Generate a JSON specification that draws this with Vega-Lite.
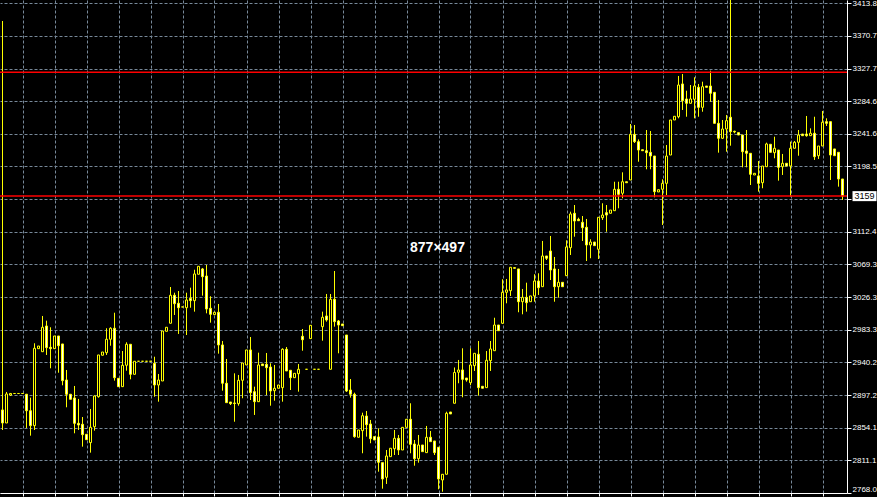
{
"$schema": "https://vega.github.io/schema/vega-lite/v6.json",
"width": 847, "height": 493,
"autosize": "none",
"padding": {"left": 0, "top": 0, "right": 30, "bottom": 4},
"background": "#000000",
"config": {"view": {"stroke": null}, "scale": {"continuousPadding": 0}},
"datasets": {
"candles": [
{"i":0,"o":2877.5,"h":3390.3,"l":2851.1,"c":2860.3},
{"i":1,"o":2860.3,"h":2901.2,"l":2860.3,"c":2898.6},
{"i":2,"o":2897.2,"h":2899.9,"l":2895.9,"c":2899.2},
{"i":3,"o":2899.2,"h":2899.2,"l":2899.2,"c":2899.2},
{"i":4,"o":2899.2,"h":2899.2,"l":2899.2,"c":2899.2},
{"i":5,"o":2899.2,"h":2899.2,"l":2899.2,"c":2899.2},
{"i":6,"o":2898.2,"h":2898.6,"l":2853.7,"c":2876.5},
{"i":7,"o":2876.5,"h":2893.7,"l":2843.6,"c":2856.8},
{"i":8,"o":2856.8,"h":2965.4,"l":2851.1,"c":2958.8},
{"i":9,"o":2958.3,"h":2961.8,"l":2958.3,"c":2961.8},
{"i":10,"o":2954.3,"h":3001.4,"l":2954.3,"c":2986.5},
{"i":11,"o":2988.2,"h":2995.2,"l":2950.0,"c":2959.6},
{"i":12,"o":2960.1,"h":2986.5,"l":2932.4,"c":2958.3},
{"i":13,"o":2958.3,"h":2975.0,"l":2958.3,"c":2975.0},
{"i":14,"o":2975.0,"h":2975.0,"l":2926.6,"c":2962.2},
{"i":15,"o":2964.5,"h":2964.5,"l":2910.0,"c":2916.1},
{"i":16,"o":2917.0,"h":2930.2,"l":2881.0,"c":2898.2},
{"i":17,"o":2898.2,"h":2898.2,"l":2891.6,"c":2891.6},
{"i":18,"o":2893.3,"h":2909.1,"l":2846.7,"c":2859.9},
{"i":19,"o":2859.9,"h":2892.0,"l":2851.1,"c":2857.7},
{"i":20,"o":2858.6,"h":2868.2,"l":2829.1,"c":2844.9},
{"i":21,"o":2845.4,"h":2845.4,"l":2837.9,"c":2838.3},
{"i":22,"o":2834.4,"h":2878.8,"l":2821.2,"c":2854.6},
{"i":23,"o":2855.4,"h":2896.6,"l":2850.2,"c":2895.9},
{"i":24,"o":2895.0,"h":2950.0,"l":2893.7,"c":2950.0},
{"i":25,"o":2949.6,"h":2953.9,"l":2949.6,"c":2953.9},
{"i":26,"o":2953.0,"h":2985.2,"l":2950.0,"c":2970.7},
{"i":27,"o":2970.7,"h":2986.5,"l":2962.2,"c":2985.2},
{"i":28,"o":2985.2,"h":3005.7,"l":2916.1,"c":2920.0},
{"i":29,"o":2919.2,"h":2919.2,"l":2907.8,"c":2908.2},
{"i":30,"o":2908.2,"h":2955.2,"l":2907.8,"c":2936.4},
{"i":31,"o":2936.4,"h":2966.7,"l":2929.3,"c":2964.1},
{"i":32,"o":2964.1,"h":2964.1,"l":2917.9,"c":2924.5},
{"i":33,"o":2924.5,"h":2941.7,"l":2924.5,"c":2941.7},
{"i":34,"o":2941.7,"h":2941.7,"l":2941.7,"c":2941.7},
{"i":35,"o":2941.7,"h":2941.7,"l":2941.7,"c":2941.7},
{"i":36,"o":2941.7,"h":2941.7,"l":2941.7,"c":2941.7},
{"i":37,"o":2941.7,"h":2941.7,"l":2941.7,"c":2941.7},
{"i":38,"o":2939.0,"h":2947.7,"l":2895.0,"c":2910.4},
{"i":39,"o":2910.4,"h":2924.9,"l":2888.4,"c":2917.0},
{"i":40,"o":2915.7,"h":2981.6,"l":2915.7,"c":2981.6},
{"i":41,"o":2981.2,"h":2986.5,"l":2981.2,"c":2986.5},
{"i":42,"o":2991.8,"h":3039.6,"l":2991.8,"c":3028.7},
{"i":43,"o":3028.7,"h":3032.1,"l":3002.7,"c":3017.6},
{"i":44,"o":3018.1,"h":3034.3,"l":2977.7,"c":3012.3},
{"i":45,"o":3013.3,"h":3013.3,"l":3013.3,"c":3013.3},
{"i":46,"o":3012.3,"h":3032.1,"l":2976.3,"c":3022.5},
{"i":47,"o":3024.7,"h":3038.7,"l":3012.3,"c":3021.6},
{"i":48,"o":3021.6,"h":3062.4,"l":3007.1,"c":3056.8},
{"i":49,"o":3056.4,"h":3066.9,"l":3056.4,"c":3066.9},
{"i":50,"o":3063.4,"h":3064.7,"l":3028.2,"c":3053.2},
{"i":51,"o":3054.1,"h":3068.6,"l":3004.9,"c":3010.6},
{"i":52,"o":3011.5,"h":3027.4,"l":2992.6,"c":3003.6},
{"i":53,"o":3003.1,"h":3006.3,"l":3003.1,"c":3006.3},
{"i":54,"o":3006.3,"h":3017.2,"l":2951.7,"c":2963.2},
{"i":55,"o":2963.2,"h":2968.4,"l":2902.9,"c":2912.7},
{"i":56,"o":2912.7,"h":2944.7,"l":2887.1,"c":2887.1},
{"i":57,"o":2888.0,"h":2888.0,"l":2884.0,"c":2885.8},
{"i":58,"o":2886.7,"h":2925.8,"l":2862.0,"c":2886.0},
{"i":59,"o":2885.8,"h":2923.6,"l":2883.1,"c":2916.6},
{"i":60,"o":2916.6,"h":2939.4,"l":2892.9,"c":2939.4},
{"i":61,"o":2936.8,"h":2956.6,"l":2936.8,"c":2956.6},
{"i":62,"o":2956.6,"h":2973.7,"l":2890.6,"c":2900.3},
{"i":63,"o":2901.6,"h":2908.2,"l":2870.9,"c":2888.4},
{"i":64,"o":2888.4,"h":2953.0,"l":2888.4,"c":2936.8},
{"i":65,"o":2938.1,"h":2938.1,"l":2935.9,"c":2935.9},
{"i":66,"o":2937.7,"h":2952.6,"l":2897.2,"c":2933.2},
{"i":67,"o":2934.1,"h":2939.0,"l":2883.1,"c":2902.5},
{"i":68,"o":2902.9,"h":2936.8,"l":2889.7,"c":2906.1},
{"i":69,"o":2906.1,"h":2910.4,"l":2906.1,"c":2910.4},
{"i":70,"o":2906.9,"h":2958.8,"l":2888.4,"c":2957.5},
{"i":71,"o":2957.5,"h":2960.5,"l":2928.9,"c":2928.9},
{"i":72,"o":2929.8,"h":2929.8,"l":2903.8,"c":2920.0},
{"i":73,"o":2920.0,"h":2925.8,"l":2920.0,"c":2925.8},
{"i":74,"o":2925.3,"h":2938.1,"l":2901.6,"c":2931.1},
{"i":75,"o":2974.6,"h":2984.2,"l":2955.6,"c":2970.1},
{"i":76,"o":2931.1,"h":2931.1,"l":2931.1,"c":2931.1},
{"i":77,"o":2971.5,"h":2989.1,"l":2971.5,"c":2989.1},
{"i":78,"o":2931.1,"h":2931.1,"l":2931.1,"c":2931.1},
{"i":79,"o":2931.1,"h":2931.1,"l":2931.1,"c":2931.1},
{"i":80,"o":2987.3,"h":3007.1,"l":2968.8,"c":2999.7},
{"i":81,"o":3001.4,"h":3030.4,"l":2993.9,"c":2996.1},
{"i":82,"o":2931.1,"h":3030.4,"l":2931.1,"c":3023.4},
{"i":83,"o":3023.4,"h":3060.7,"l":2987.3,"c":2993.9},
{"i":84,"o":2994.8,"h":2996.1,"l":2952.2,"c":2989.5},
{"i":85,"o":2990.8,"h":2990.8,"l":2988.6,"c":2988.6},
{"i":86,"o":2976.3,"h":2976.3,"l":2901.2,"c":2902.5},
{"i":87,"o":2903.8,"h":2918.3,"l":2893.7,"c":2898.2},
{"i":88,"o":2898.2,"h":2900.3,"l":2840.9,"c":2842.3},
{"i":89,"o":2841.5,"h":2851.1,"l":2841.5,"c":2851.1},
{"i":90,"o":2850.2,"h":2873.9,"l":2820.4,"c":2869.9},
{"i":91,"o":2869.5,"h":2876.1,"l":2842.3,"c":2858.1},
{"i":92,"o":2859.0,"h":2864.3,"l":2833.6,"c":2839.6},
{"i":93,"o":2842.3,"h":2842.3,"l":2837.9,"c":2837.9},
{"i":94,"o":2841.9,"h":2853.3,"l":2796.1,"c":2808.5},
{"i":95,"o":2808.0,"h":2808.0,"l":2773.7,"c":2786.5},
{"i":96,"o":2788.7,"h":2824.7,"l":2779.9,"c":2816.8},
{"i":97,"o":2815.9,"h":2827.0,"l":2815.9,"c":2827.0},
{"i":98,"o":2826.4,"h":2851.1,"l":2818.1,"c":2840.1},
{"i":99,"o":2840.1,"h":2844.5,"l":2818.1,"c":2824.7},
{"i":100,"o":2824.7,"h":2854.6,"l":2824.7,"c":2854.6},
{"i":101,"o":2854.6,"h":2865.2,"l":2854.6,"c":2865.2},
{"i":102,"o":2865.2,"h":2886.3,"l":2820.4,"c":2832.2},
{"i":103,"o":2832.6,"h":2837.9,"l":2804.0,"c":2813.3},
{"i":104,"o":2813.3,"h":2844.5,"l":2808.0,"c":2831.3},
{"i":105,"o":2831.3,"h":2831.3,"l":2822.5,"c":2822.5},
{"i":106,"o":2821.2,"h":2856.4,"l":2821.2,"c":2841.5},
{"i":107,"o":2841.5,"h":2849.8,"l":2835.7,"c":2835.7},
{"i":108,"o":2836.6,"h":2836.6,"l":2818.1,"c":2821.2},
{"i":109,"o":2828.3,"h":2828.3,"l":2772.9,"c":2786.5},
{"i":110,"o":2785.2,"h":2792.7,"l":2769.7,"c":2792.7},
{"i":111,"o":2792.7,"h":2875.2,"l":2792.7,"c":2873.1},
{"i":112,"o":2874.8,"h":2874.8,"l":2872.2,"c":2872.2},
{"i":113,"o":2886.3,"h":2933.5,"l":2886.3,"c":2926.9},
{"i":114,"o":2927.2,"h":2943.4,"l":2912.7,"c":2930.2},
{"i":115,"o":2930.2,"h":2958.8,"l":2894.2,"c":2917.9},
{"i":116,"o":2919.6,"h":2919.6,"l":2914.8,"c":2917.0},
{"i":117,"o":2913.4,"h":2958.8,"l":2910.4,"c":2936.8},
{"i":118,"o":2935.9,"h":2952.2,"l":2928.9,"c":2952.2},
{"i":119,"o":2950.9,"h":2968.4,"l":2896.3,"c":2906.9},
{"i":120,"o":2908.7,"h":2908.7,"l":2906.1,"c":2906.1},
{"i":121,"o":2906.9,"h":2955.2,"l":2906.9,"c":2943.0},
{"i":122,"o":2942.5,"h":2968.4,"l":2928.9,"c":2957.9},
{"i":123,"o":2955.6,"h":2999.1,"l":2955.6,"c":2989.5},
{"i":124,"o":2989.5,"h":2989.5,"l":2982.0,"c":2982.0},
{"i":125,"o":2991.8,"h":3049.8,"l":2990.8,"c":3032.6},
{"i":126,"o":3032.6,"h":3050.2,"l":3018.1,"c":3035.7},
{"i":127,"o":3034.7,"h":3065.6,"l":3027.8,"c":3065.6},
{"i":128,"o":3065.1,"h":3065.1,"l":3064.3,"c":3064.3},
{"i":129,"o":3063.4,"h":3063.4,"l":3006.3,"c":3020.2},
{"i":130,"o":3020.2,"h":3037.0,"l":3003.6,"c":3026.0},
{"i":131,"o":3026.0,"h":3045.3,"l":3007.1,"c":3018.9},
{"i":132,"o":3020.2,"h":3027.8,"l":3020.2,"c":3027.8},
{"i":133,"o":3027.8,"h":3056.4,"l":3020.2,"c":3047.5},
{"i":134,"o":3047.5,"h":3057.7,"l":3029.1,"c":3038.7},
{"i":135,"o":3040.0,"h":3100.3,"l":3040.0,"c":3080.5},
{"i":136,"o":3080.5,"h":3080.5,"l":3075.2,"c":3077.5},
{"i":137,"o":3087.1,"h":3106.9,"l":3048.8,"c":3062.0},
{"i":138,"o":3063.4,"h":3079.2,"l":3020.2,"c":3040.0},
{"i":139,"o":3040.0,"h":3063.4,"l":3025.5,"c":3045.8},
{"i":140,"o":3045.8,"h":3045.8,"l":3040.0,"c":3040.0},
{"i":141,"o":3054.5,"h":3101.2,"l":3054.5,"c":3092.4},
{"i":142,"o":3091.4,"h":3138.9,"l":3081.8,"c":3135.9},
{"i":143,"o":3136.8,"h":3147.7,"l":3105.9,"c":3126.6},
{"i":144,"o":3128.9,"h":3131.0,"l":3127.0,"c":3127.0},
{"i":145,"o":3124.9,"h":3133.2,"l":3100.3,"c":3117.8},
{"i":146,"o":3118.3,"h":3129.3,"l":3073.9,"c":3095.0},
{"i":147,"o":3095.0,"h":3102.5,"l":3077.5,"c":3098.9},
{"i":148,"o":3098.9,"h":3098.9,"l":3094.1,"c":3094.1},
{"i":149,"o":3089.3,"h":3131.5,"l":3076.5,"c":3131.5},
{"i":150,"o":3131.0,"h":3150.0,"l":3128.0,"c":3134.5},
{"i":151,"o":3137.6,"h":3147.7,"l":3112.5,"c":3134.5},
{"i":152,"o":3136.8,"h":3141.1,"l":3136.8,"c":3141.1},
{"i":153,"o":3140.2,"h":3178.4,"l":3140.2,"c":3168.4},
{"i":154,"o":3168.4,"h":3178.4,"l":3143.4,"c":3161.8},
{"i":155,"o":3163.2,"h":3190.8,"l":3156.6,"c":3178.4},
{"i":156,"o":3178.4,"h":3178.4,"l":3177.1,"c":3177.1},
{"i":157,"o":3180.7,"h":3254.5,"l":3180.7,"c":3240.9},
{"i":158,"o":3240.9,"h":3253.2,"l":3229.5,"c":3231.2},
{"i":159,"o":3231.2,"h":3234.3,"l":3204.8,"c":3220.2},
{"i":160,"o":3220.6,"h":3220.6,"l":3219.3,"c":3219.3},
{"i":161,"o":3219.3,"h":3246.6,"l":3194.8,"c":3216.7},
{"i":162,"o":3217.2,"h":3245.3,"l":3194.8,"c":3212.3},
{"i":163,"o":3212.3,"h":3212.3,"l":3157.9,"c":3165.3},
{"i":164,"o":3164.9,"h":3167.9,"l":3164.9,"c":3167.9},
{"i":165,"o":3168.4,"h":3181.6,"l":3121.4,"c":3176.3},
{"i":166,"o":3176.3,"h":3226.8,"l":3160.9,"c":3212.3},
{"i":167,"o":3213.6,"h":3259.8,"l":3213.6,"c":3259.8},
{"i":168,"o":3259.8,"h":3264.7,"l":3259.8,"c":3264.7},
{"i":169,"o":3264.1,"h":3317.8,"l":3262.0,"c":3305.9},
{"i":170,"o":3307.3,"h":3320.4,"l":3273.0,"c":3285.2},
{"i":171,"o":3287.5,"h":3298.4,"l":3264.1,"c":3281.8},
{"i":172,"o":3281.8,"h":3305.9,"l":3281.8,"c":3287.5},
{"i":173,"o":3287.1,"h":3316.1,"l":3262.0,"c":3304.6},
{"i":174,"o":3302.9,"h":3307.3,"l":3264.1,"c":3276.5},
{"i":175,"o":3276.5,"h":3310.3,"l":3270.7,"c":3303.7},
{"i":176,"o":3304.6,"h":3304.6,"l":3302.9,"c":3302.9},
{"i":177,"o":3304.6,"h":3324.8,"l":3283.9,"c":3295.0},
{"i":178,"o":3296.3,"h":3296.3,"l":3255.4,"c":3255.4},
{"i":179,"o":3255.4,"h":3286.2,"l":3216.7,"c":3235.7},
{"i":180,"o":3235.7,"h":3259.8,"l":3234.7,"c":3247.9},
{"i":181,"o":3247.9,"h":3266.4,"l":3218.0,"c":3258.9},
{"i":182,"o":3263.4,"h":3430.0,"l":3225.9,"c":3244.4},
{"i":183,"o":3244.9,"h":3245.7,"l":3242.3,"c":3244.0},
{"i":184,"o":3243.1,"h":3243.1,"l":3240.0,"c":3240.0},
{"i":185,"o":3240.0,"h":3240.0,"l":3197.4,"c":3218.0},
{"i":186,"o":3218.9,"h":3246.6,"l":3197.4,"c":3215.9},
{"i":187,"o":3215.9,"h":3215.9,"l":3174.1,"c":3188.2},
{"i":188,"o":3187.3,"h":3189.5,"l":3187.3,"c":3189.5},
{"i":189,"o":3186.0,"h":3205.7,"l":3165.3,"c":3176.3},
{"i":190,"o":3177.1,"h":3199.1,"l":3169.8,"c":3199.1},
{"i":191,"o":3198.2,"h":3229.9,"l":3198.2,"c":3228.2},
{"i":192,"o":3227.8,"h":3227.8,"l":3217.2,"c":3217.2},
{"i":193,"o":3216.7,"h":3237.8,"l":3209.3,"c":3222.5},
{"i":194,"o":3220.2,"h":3220.2,"l":3179.8,"c":3197.4},
{"i":195,"o":3198.2,"h":3215.0,"l":3187.3,"c":3202.7},
{"i":196,"o":3202.7,"h":3202.7,"l":3199.1,"c":3199.1},
{"i":197,"o":3199.1,"h":3231.2,"l":3158.7,"c":3222.5},
{"i":198,"o":3222.5,"h":3232.1,"l":3222.5,"c":3230.4},
{"i":199,"o":3230.4,"h":3246.6,"l":3212.7,"c":3240.0},
{"i":200,"o":3241.3,"h":3241.3,"l":3239.1,"c":3239.1},
{"i":201,"o":3241.3,"h":3265.1,"l":3237.8,"c":3239.1},
{"i":202,"o":3239.1,"h":3248.8,"l":3239.1,"c":3242.3},
{"i":203,"o":3242.3,"h":3264.1,"l":3207.1,"c":3211.4},
{"i":204,"o":3212.7,"h":3225.5,"l":3208.4,"c":3225.5},
{"i":205,"o":3225.5,"h":3271.7,"l":3225.5,"c":3256.8},
{"i":206,"o":3257.6,"h":3262.0,"l":3251.9,"c":3255.4},
{"i":207,"o":3257.6,"h":3257.6,"l":3180.7,"c":3213.6},
{"i":208,"o":3221.6,"h":3221.6,"l":3212.7,"c":3212.7},
{"i":209,"o":3217.2,"h":3217.2,"l":3171.9,"c":3182.0},
{"i":210,"o":3182.0,"h":3182.0,"l":3154.3,"c":3159.4}
],
"levels": [{"p": 3322.8}, {"p": 3159.6}],
"price": [{"i": 215.5, "p": 3159.4, "t": "3159"}],
"note": [{"i": 108.75, "p": 3091.3, "t": "877×497"}]
},
"layer": [
{
"data": {"name": "candles"},
"mark": {"type": "rule", "color": "#FFFF00", "strokeWidth": 1, "clip": true},
"encoding": {
"x": {"field": "i", "type": "quantitative", "scale": {"domain": [-0.625, 211.125], "nice": false, "zero": false, "padding": 0},
"axis": {"orient": "bottom", "values": [5,13,21,29,37,45,53,61,69,77,85,93,101,109,117,125,133,141,149,157,165,173,181,189,197,205], "tickCount": 200, "grid": true, "gridColor": "#778899", "gridDash": [3,2], "gridWidth": 1, "domainColor": "#FFFFFF", "tickColor": "#FFFFFF", "tickSize": 3, "labels": false, "title": null}},
"y": {"field": "l", "type": "quantitative", "scale": {"domain": [2768, 3418], "nice": false, "zero": false, "padding": 0},
"axis": {"orient": "right", "values": [2768.0,2811.05,2854.1,2897.15,2940.2,2983.25,3026.3,3069.35,3112.4,3155.45,3198.5,3241.55,3284.6,3327.65,3370.7,3413.75], "tickCount": 200, "labelExpr": "abs(datum.value - 3155.45) < 1 ? '' : format(datum.value, '.1f')", "grid": true, "gridColor": "#778899", "gridDash": [3,2], "gridWidth": 1, "domainColor": "#FFFFFF", "tickColor": "#FFFFFF", "tickSize": 4, "labelColor": "#FFFFFF", "labelFont": "Liberation Sans", "labelFontSize": 8, "labelPadding": 1, "labelFlush": true, "labelOverlap": false, "labelSeparation": 0, "labelBound": false, "title": null}},
"y2": {"field": "h"}
}
},
{
"data": {"name": "candles"},
"mark": {"type": "bar", "size": 2, "stroke": "#FFFF00", "strokeWidth": 1, "orient": "vertical", "clip": true},
"encoding": {
"x": {"field": "i", "type": "quantitative"},
"y": {"field": "o", "type": "quantitative"},
"y2": {"field": "c"},
"fill": {"condition": {"test": "datum.o > datum.c", "value": "#FFFFFF"}, "value": "#000000"}
}
},
{
"data": {"name": "levels"},
"mark": {"type": "rule", "color": "#FF0000", "strokeWidth": 1.5},
"encoding": {"y": {"field": "p", "type": "quantitative"}}
},
{
"data": {"name": "price"},
"mark": {"type": "tick", "orient": "horizontal", "size": 24, "thickness": 10, "color": "#FFFFFF", "opacity": 1, "clip": false},
"encoding": {"x": {"field": "i", "type": "quantitative"}, "y": {"field": "p", "type": "quantitative"}}
},
{
"data": {"name": "price"},
"mark": {"type": "text", "color": "#000000", "font": "Liberation Sans", "fontSize": 9, "align": "center", "baseline": "middle", "clip": false},
"encoding": {"x": {"field": "i", "type": "quantitative"}, "y": {"field": "p", "type": "quantitative"}, "text": {"field": "t"}}
},
{
"data": {"name": "note"},
"mark": {"type": "text", "color": "#FFFFFF", "font": "Liberation Sans", "fontSize": 14, "fontWeight": "bold", "align": "center", "baseline": "middle"},
"encoding": {"x": {"field": "i", "type": "quantitative"}, "y": {"field": "p", "type": "quantitative"}, "text": {"field": "t"}}
}
]
}
